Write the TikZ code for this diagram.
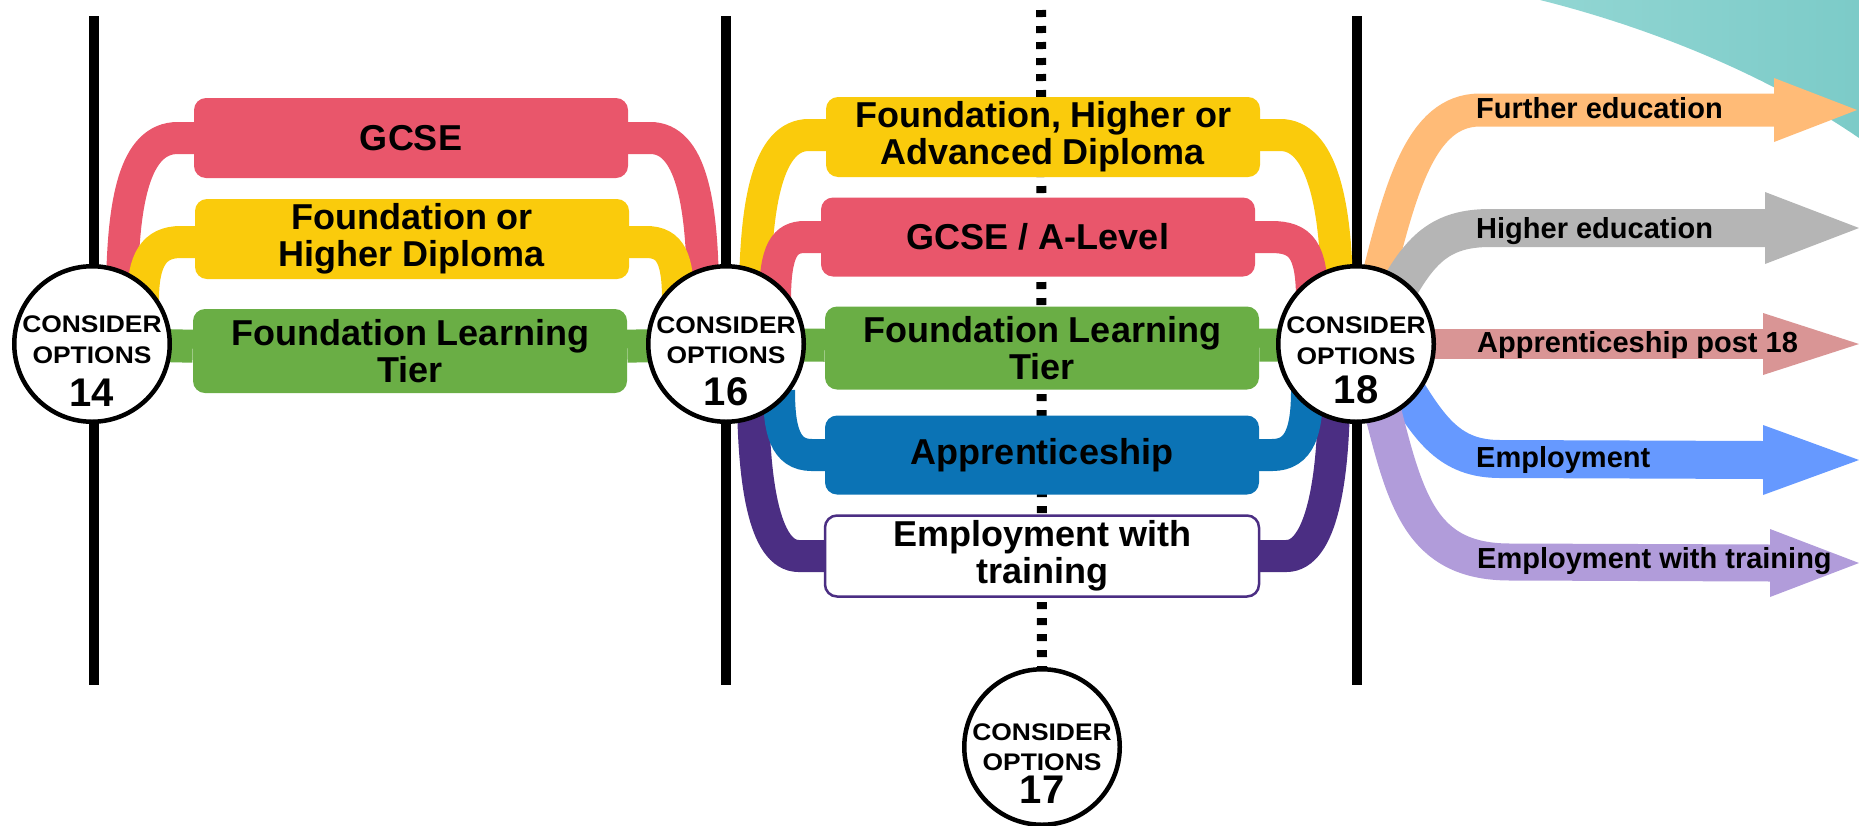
\documentclass[tikz,border=0pt]{standalone}
\usepackage{fontspec}
\setmainfont{Liberation Sans}
\newfontfamily\circfont{Liberation Sans}[FakeStretch=1.1]
\usetikzlibrary{calc}
\definecolor{cRed}{HTML}{E9566B}
\definecolor{cYel}{HTML}{FACB0C}
\definecolor{cGrn}{HTML}{6AAE45}
\definecolor{cBlu}{HTML}{0B73B5}
\definecolor{cPur}{HTML}{4B2E83}
\definecolor{aOra}{HTML}{FFBB77}
\definecolor{aGry}{HTML}{B5B5B5}
\definecolor{aPnk}{HTML}{D99595}
\definecolor{aBlu}{HTML}{6699FF}
\definecolor{aLav}{HTML}{B19CDA}
\definecolor{tealL}{HTML}{92D6D3}
\definecolor{tealD}{HTML}{7CCBC8}
\pgfdeclarelayer{back}
\pgfdeclarelayer{bands}
\pgfsetlayers{back,bands,main}
\newcommand\optcirc[7]{%
  \node[optc] (#1) at (#2,#3) {};
  \node[ctext] (#1-a) at (#2,#3+#5) {CONSIDER};
  \node[ctext] (#1-b) at (#2,#3+#6) {OPTIONS};
  \node[cnum] (#1-c) at (#2,#3+#7) {#4};
}
\begin{document}
\begin{tikzpicture}[x=1pt,y=-1pt,
  optc/.style={circle, draw=black, line width=4.5pt, fill=white, minimum size=155.5pt, inner sep=0pt},
  ctext/.style={anchor=base, inner sep=0pt, font=\circfont\bfseries\fontsize{24}{24}\selectfont},
  cnum/.style={anchor=base, inner sep=0pt, font=\bfseries\fontsize{40}{40}\selectfont},
  box/.style={rounded corners=12pt, inner sep=0pt, minimum width=434pt, minimum height=80pt, align=center, font=\bfseries\fontsize{36}{37}\selectfont},
  band/.style={line width=32pt},
  alabel/.style={anchor=base west, inner sep=0pt, font=\bfseries\fontsize{29}{29}\selectfont},
  vline/.style={line width=10pt, draw=black},
  dotline/.style={line width=10pt, draw=black, dash pattern=on 7pt off 9pt},
  ahead/.style={draw=none}
]
\useasboundingbox (0,0) rectangle (1859,825);

% ---------- boxes ----------
\node[box, fill=cRed] (gcse) at (411,138) {GCSE};
\node[box, fill=cYel] (fohd) at (412,239) {Foundation or\\Higher Diploma};
\node[box, fill=cGrn, minimum height=84pt] (flt1) at (410,351) {Foundation Learning\\Tier};

\node[box, fill=cYel] (fhad) at (1043,137) {Foundation, Higher or\\Advanced Diploma};
\node[box, fill=cRed, minimum height=79pt] (gal) at (1038,237) {GCSE / A-Level};
\node[box, fill=cGrn, minimum height=83pt] (flt2) at (1042,348) {Foundation Learning\\Tier};
\node[box, fill=cBlu, minimum height=79pt] (app) at (1042,455) {Apprenticeship};
\node[box, fill=white, draw=cPur, line width=2.5pt, minimum height=81pt] (ewt) at (1042,556) {Employment with\\training};

% ---------- circles ----------
\optcirc{c14}{92}{344}{14}{-12}{19}{62}
\optcirc{c16}{726}{344}{16}{-11}{19}{61}
\optcirc{c18}{1356}{344}{18}{-11}{20}{59}
\optcirc{c17}{1042}{747}{17}{-7}{23}{56}

% ---------- free ends ----------
\coordinate (v1t) at (94,16);   \coordinate (v1b) at (94,685);
\coordinate (v2t) at (726,16);  \coordinate (v2b) at (726,685);
\coordinate (v3t) at (1357,16); \coordinate (v3b) at (1357,685);
\coordinate (dtop) at (1041,10);
\coordinate (feTip) at (1857,110);
\coordinate (heTip) at (1859,228);
\coordinate (apTip) at (1859,344);
\coordinate (emTip) at (1859,460);
\coordinate (ewTip) at (1859,563);

% ---------- background ----------
\begin{pgfonlayer}{back}
  \shade[left color=tealL, right color=tealD] (1540,0) .. controls (1640,25) and (1760,70) .. (1859,138) -- (1859,0) -- cycle;
  \draw[vline] (v1t) -- (v1b);
  \draw[vline] (v2t) -- (v2b);
  \draw[vline] (v3t) -- (v3b);
  \draw[dotline] (dtop) -- (c17.north);
\end{pgfonlayer}

% ---------- bands ----------
\begin{pgfonlayer}{bands}
  % left section
  \draw[band, cGrn, line width=33pt] (c14.center) -- (flt1) -- (c16.center);
  \draw[band, cRed] ([xshift=4pt]gcse.west) -- ++(-20,0) .. controls +(-43,0) and +(0,-100) .. ($(c14.center)+(30,-44)$);
  \draw[band, cRed] ([xshift=-4pt]gcse.east) -- ++(26,0) .. controls +(40,0) and +(0,-100) .. ($(c16.center)+(-23,-44)$);
  \draw[band, cYel] ([xshift=4pt,yshift=-3pt]fohd.west) -- ++(-18,0) .. controls +(-27,0) and +(0,-40) .. ($(c14.center)+(51,-44)$);
  \draw[band, cYel] ([xshift=-4pt,yshift=-3pt]fohd.east) -- ++(21,0) .. controls +(25,0) and +(0,-40) .. ($(c16.center)+(-48,-44)$);
  % middle section
  \draw[band, cGrn, line width=33pt] (c16.center) -- (flt2) -- (c18.center);
  \draw[band, cYel] ([xshift=4pt,yshift=2pt]fhad.west) -- ++(-21,0) .. controls +(-40,0) and +(0,-100) .. ($(c16.center)+(29,-44)$);
  \draw[band, cYel] ([xshift=-4pt,yshift=2pt]fhad.east) -- ++(24,0) .. controls +(40,0) and +(0,-100) .. ($(c18.center)+(-19,-44)$);
  \draw[band, cRed] ([xshift=4pt]gal.west) -- ++(-20,0) .. controls +(-20,0) and +(0,-50) .. ($(c16.center)+(49,-44)$);
  \draw[band, cRed] ([xshift=-4pt]gal.east) -- ++(20,0) .. controls +(30,0) and +(0,-50) .. ($(c18.center)+(-44,-44)$);
  \draw[band, cPur] ([xshift=4pt]ewt.west) -- ++(-29,0) .. controls +(-35,0) and +(0,90) .. ($(c16.center)+(27,46)$);
  \draw[band, cPur] ([xshift=-4pt]ewt.east) -- ++(30,0) .. controls +(35,0) and +(0,90) .. ($(c18.center)+(-22,46)$);
  \draw[band, cBlu] ([xshift=4pt]app.west) -- ++(-17,0) .. controls +(-27,0) and +(0,40) .. ($(c16.center)+(53,46)$);
  \draw[band, cBlu] ([xshift=-4pt]app.east) -- ++(17,0) .. controls +(28,0) and +(0,40) .. ($(c18.center)+(-49,46)$);
  % outgoing arrows (shafts)
  \draw[aOra, line width=33pt] ($(c18.center)+(19,-54)$) .. controls +(25,-100) and +(-60,0) .. (1480,110) -- ([xshift=-82pt]feTip);
  \draw[aGry, line width=38pt] ($(c18.center)+(39,-49)$) .. controls +(25,-45) and +(-50,0) .. (1490,228) -- ([xshift=-93pt]heTip);
  \draw[aPnk, line width=30pt] (c18.center) -- ([xshift=-95pt]apTip);
  \draw[aBlu, line width=38pt] ($(c18.center)+(44,36)$) .. controls +(30,50) and +(-50,0) .. (1500,459) -- ([xshift=-95pt]emTip);
  \draw[aLav, line width=37pt] ($(c18.center)+(24,56)$) .. controls +(25,100) and +(-90,0) .. (1510,562) -- ([xshift=-88pt]ewTip);
\end{pgfonlayer}

% ---------- arrow heads ----------
\fill[aOra] (feTip) -- ++(-83,-32) -- ++(0,64) -- cycle;
\fill[aGry] (heTip) -- ++(-94,-36) -- ++(0,72) -- cycle;
\fill[aPnk] (apTip) -- ++(-96,-31) -- ++(0,62) -- cycle;
\fill[aBlu] (emTip) -- ++(-96,-35) -- ++(0,70) -- cycle;
\fill[aLav] (ewTip) -- ++(-89,-34) -- ++(0,68) -- cycle;

% ---------- arrow labels ----------
\node[alabel] (lfe) at (1476,118) {Further education};
\node[alabel] (lhe) at (1476,238) {Higher education};
\node[alabel] (lap) at (1477,352) {Apprenticeship post 18};
\node[alabel] (lem) at (1476,467) {Employment};
\node[alabel] (lew) at (1477,568) {Employment with training};
\end{tikzpicture}
\end{document}
